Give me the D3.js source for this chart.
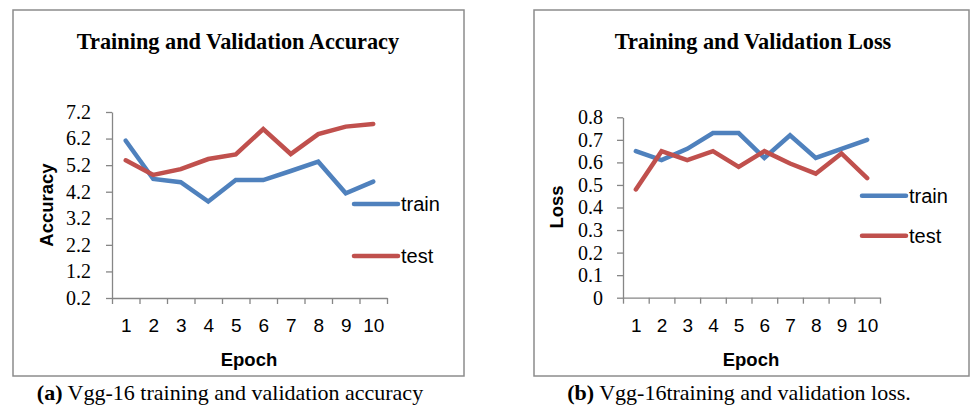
<!DOCTYPE html>
<html>
<head>
<meta charset="utf-8">
<script src="https://cdn.jsdelivr.net/npm/d3@7/dist/d3.min.js"></script>
<style>
  html, body { margin: 0; padding: 0; background: #fff; }
  svg { display: block; }
</style>
</head>
<body>
<svg id="chart" width="971" height="409"></svg>
<script>
// data
var epochs = [1, 2, 3, 4, 5, 6, 7, 8, 9, 10];
var accTrain = [6.12, 4.68, 4.56, 3.83, 4.64, 4.64, 4.98, 5.33, 4.14, 4.58];
var accTest = [5.38, 4.83, 5.05, 5.43, 5.6, 6.56, 5.62, 6.37, 6.65, 6.75];
var lossTrain = [0.65, 0.61, 0.66, 0.73, 0.73, 0.62, 0.72, 0.62, 0.66, 0.70];
var lossTest = [0.48, 0.65, 0.61, 0.65, 0.58, 0.65, 0.595, 0.55, 0.64, 0.53];
var accTicks = [0.2, 1.2, 2.2, 3.2, 4.2, 5.2, 6.2, 7.2];
var lossTicks = [0, 0.1, 0.2, 0.3, 0.4, 0.5, 0.6, 0.7, 0.8];
var seriesNames = ["train", "test"];

var colors = { train: "#4f81bd", test: "#c0504d" };
var axisColor = "#868686";
var SERIF = '"Liberation Serif", "Times New Roman", serif';
var SANS = '"Liberation Sans", Arial, sans-serif';

var svg = d3.select("#chart");

function drawPanel(cfg) {
    var g = svg.append("g");

    // frame
    g.append("rect")
        .attr("x", cfg.box[0]).attr("y", cfg.box[1])
        .attr("width", cfg.box[2]).attr("height", cfg.box[3])
        .attr("fill", "none")
        .attr("stroke", "#8c8c8c")
        .attr("stroke-width", 1.5);

    var x = d3.scaleLinear().domain([0.5, 10.5]).range([cfg.plot.left, cfg.plot.right]);
    var y = d3.scaleLinear().domain(cfg.yDomain).range([cfg.plot.bottom, cfg.plot.top]);

    // y axis
    var ya = g.append("g")
        .attr("transform", "translate(" + cfg.plot.left + ",0)")
        .call(d3.axisLeft(y).tickValues(cfg.yTicks).tickSize(6).tickSizeOuter(0)
            .tickPadding(cfg.yPad).tickFormat(cfg.yFormat));
    ya.attr("font-family", null).attr("font-size", null);
    ya.select(".domain").attr("stroke", axisColor).attr("stroke-width", 1.3);
    ya.selectAll(".tick line").attr("stroke", axisColor).attr("stroke-width", 1.3);
    ya.selectAll(".tick text")
        .style("font-family", SERIF)
        .style("font-size", "20px")
        .attr("fill", "#000");

    // x axis: ticks between categories
    var xa = g.append("g")
        .attr("transform", "translate(0," + cfg.plot.bottom + ")")
        .call(d3.axisBottom(x).tickValues(d3.range(0.5, 11, 1)).tickSize(6)
            .tickSizeOuter(0).tickFormat(""));
    xa.select(".domain").attr("stroke", axisColor).attr("stroke-width", 1.3);
    xa.selectAll(".tick line").attr("stroke", axisColor).attr("stroke-width", 1.3);

    // x labels at categories
    var xl = g.append("g")
        .attr("transform", "translate(0," + cfg.plot.bottom + ")")
        .call(d3.axisBottom(x).tickValues(epochs).tickSize(0).tickPadding(21));
    xl.attr("font-family", null).attr("font-size", null);
    xl.select(".domain").remove();
    xl.selectAll(".tick text")
        .style("font-family", SANS)
        .style("font-size", "19px")
        .attr("fill", "#000");

    // lines
    var line = d3.line()
        .x(function(d, i) { return x(epochs[i]); })
        .y(function(d) { return y(d); });

    seriesNames.forEach(function(name) {
        g.append("path")
            .datum(cfg.series[name])
            .attr("d", line)
            .attr("fill", "none")
            .attr("stroke", colors[name])
            .attr("stroke-width", 4.5)
            .attr("stroke-linejoin", "miter")
            .attr("stroke-linecap", "round");
    });

    // legend
    seriesNames.forEach(function(name, i) {
        var ly = cfg.legend.y[i];
        g.append("line")
            .attr("x1", cfg.legend.x).attr("x2", cfg.legend.x + 44)
            .attr("y1", ly).attr("y2", ly)
            .attr("stroke", colors[name])
            .attr("stroke-width", 4.5)
            .attr("stroke-linecap", "round");
        g.append("text")
            .style("font-family", SANS)
            .attr("x", cfg.legend.x + 47)
            .attr("y", ly + 7)
            .attr("font-size", 20)
            .text(name);
    });

    // title
    g.append("text")
        .style("font-family", SERIF)
        .attr("x", cfg.titleX).attr("y", 49)
        .attr("text-anchor", "middle")
        .attr("font-size", 22.3)
        .attr("font-weight", "bold")
        .text(cfg.title);

    // axis titles
    g.append("text")
        .style("font-family", SANS)
        .attr("transform", "translate(" + (cfg.yLabel.x + 6) + "," + cfg.yLabel.y + ") rotate(-90)")
        .attr("text-anchor", "middle")
        .attr("font-size", 18.5)
        .attr("font-weight", "bold")
        .text(cfg.yLabel.text);

    g.append("text")
        .style("font-family", SANS)
        .attr("x", cfg.epochX).attr("y", 366)
        .attr("text-anchor", "middle")
        .attr("font-size", 18.5)
        .attr("font-weight", "bold")
        .text("Epoch");

    // caption
    var cap = g.append("text")
        .style("font-family", SERIF)
        .attr("x", cfg.caption.x).attr("y", 400)
        .attr("text-anchor", "middle")
        .attr("font-size", 22);
    cap.append("tspan").attr("font-weight", "bold").text(cfg.caption.tag);
    cap.append("tspan").text(cfg.caption.text);
}

drawPanel({
    box: [13, 10, 451, 366],
    plot: { left: 112, right: 387, top: 112, bottom: 298 },
    yDomain: [0.2, 7.2],
    yTicks: accTicks,
    yFormat: d3.format(".1f"),
    yPad: 15,
    series: { train: accTrain, test: accTest },
    legend: { x: 354, y: [204, 256] },
    title: "Training and Validation Accuracy",
    titleX: 238,
    yLabel: { x: 47, y: 205, text: "Accuracy" },
    epochX: 249,
    caption: { x: 230, tag: "(a)", text: " Vgg-16 training and validation accuracy" }
});

drawPanel({
    box: [534, 10, 435, 366],
    plot: { left: 623, right: 880, top: 117.3, bottom: 297.7 },
    yDomain: [0, 0.8],
    yTicks: lossTicks,
    yFormat: function(d) { return d === 0 ? "0" : d3.format(".1f")(d); },
    yPad: 14,
    series: { train: lossTrain, test: lossTest },
    legend: { x: 862, y: [195.7, 235.7] },
    title: "Training and Validation Loss",
    titleX: 753,
    yLabel: { x: 557, y: 207, text: "Loss" },
    epochX: 751,
    caption: { x: 739, tag: "(b)", text: " Vgg-16training and validation loss." }
});
</script>
</body>
</html>
